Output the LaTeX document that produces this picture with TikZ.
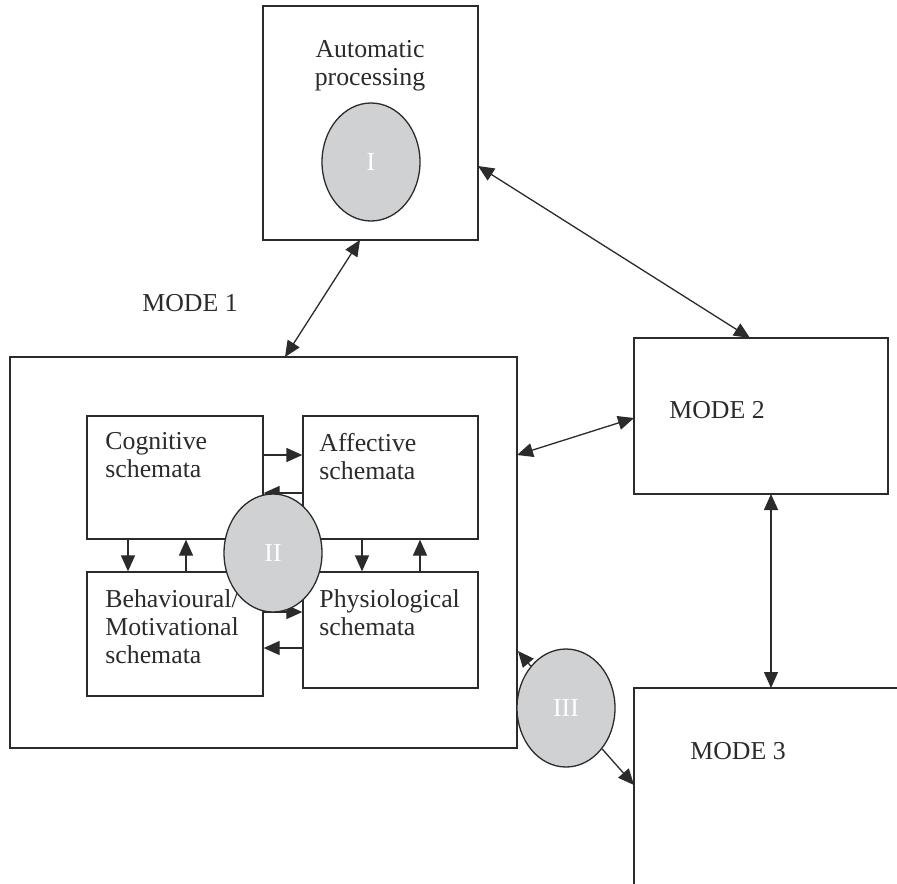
\documentclass[tikz,border=0pt]{standalone}
\usepackage{fontspec}
\setmainfont{Liberation Serif}
\usetikzlibrary{arrows.meta,shapes.geometric}
\definecolor{ink}{HTML}{2B2B2B}
\definecolor{ovalgray}{HTML}{D0D1D3}
\tikzset{
  box/.style={draw=ink, line width=0.65pt, rectangle, inner sep=0pt},
  oval/.style={draw=ink, line width=0.65pt, fill=ovalgray, ellipse, inner sep=0pt,
    minimum width=49pt, minimum height=59pt, text=white},
  txt/.style={inner sep=0pt, align=left, text=ink},
  conn/.style={draw=ink, line width=0.65pt, -{Triangle[length=8pt,width=7pt]}},
  dconn/.style={draw=ink, line width=0.65pt, {Triangle[length=8pt,width=7pt]}-{Triangle[length=8pt,width=7pt]}}
}
\begin{document}
\begin{tikzpicture}[x=0.5pt,y=-0.5pt, font={\fontsize{12.9}{14}\selectfont}]
\clip (0,0) rectangle (897,883);
\fill[white] (0,0) rectangle (897,883);

% outer boxes
\node[box, minimum width=107.5pt, minimum height=117pt] (auto) at (370.5,123) {};
\node[box, minimum width=253.5pt, minimum height=195.5pt] (mode1) at (263.5,552.5) {};
\node[box, minimum width=127pt, minimum height=78pt] (mode2) at (761,416) {};
\node[box, minimum width=135.5pt, minimum height=103.5pt] (mode3) at (769.5,791.5) {};

% inner boxes
\node[box, minimum width=88pt, minimum height=61.5pt] (cog) at (175,477.5) {};
\node[box, minimum width=87.5pt, minimum height=61.5pt] (aff) at (390.5,477.5) {};
\node[box, minimum width=88pt, minimum height=62pt] (beh) at (175,634) {};
\node[box, minimum width=87.5pt, minimum height=58pt] (phy) at (390.5,630) {};

% texts
\node[txt, align=center, anchor=north] (autotxt) at (370,40.5) {Automatic\\processing};
\node[txt, anchor=base west] (m1txt) at (142,311) {MODE 1};
\node[txt, anchor=base west] (m2txt) at (669,418) {MODE 2};
\node[txt, anchor=base west] (m3txt) at (690,759) {MODE 3};
\node[txt, anchor=north west] (cogtxt) at (105,432.5) {Cognitive\\schemata};
\node[txt, anchor=north west] (afftxt) at (319,432.5) {Affective\\schemata};
\node[txt, anchor=north west] (behtxt) at (105,589.5) {Behavioural/\\Motivational\\schemata};
\node[txt, anchor=north west] (phytxt) at (319,589.5) {Physiological\\schemata};

% connector end points on box borders
\coordinate (a1) at (360,240);
\coordinate (a2) at (285,357);
\coordinate (a3) at (478,166);
\coordinate (a4) at (750,338);
\coordinate (b1) at (517,455);
\coordinate (b2) at (634,418);
\coordinate (c1) at (771,494);
\coordinate (c2) at (771,688);
\coordinate (d1) at (518,651);
\coordinate (d2) at (634,785);

\draw[dconn] (a1) -- (a2);
\draw[dconn] (a3) -- (a4);
\draw[dconn] (b1) -- (b2);
\draw[dconn] (c1) -- (c2);

% inner connectors
\draw[conn] (cog.east |- 0,455) -- (aff.west |- 0,455);
\draw[conn] (aff.west |- 0,493) -- (cog.east |- 0,493);
\draw[conn] (beh.east |- 0,612) -- (phy.west |- 0,612);
\draw[conn] (phy.west |- 0,648) -- (beh.east |- 0,648);
\draw[conn] (128,0 |- cog.south) -- (128,0 |- beh.north);
\draw[conn] (186,0 |- beh.north) -- (186,0 |- cog.south);
\draw[conn] (362,0 |- aff.south) -- (362,0 |- phy.north);
\draw[conn] (420,0 |- phy.north) -- (420,0 |- aff.south);

% ovals
\node[oval] (o1) at (371,162) {I};
\node[oval] (o2) at (273,553) {II};
\node[oval] (o3) at (566,708) {III};

\draw[conn] (o3) -- (d1);
\draw[conn] (o3) -- (d2);
\end{tikzpicture}
\end{document}
